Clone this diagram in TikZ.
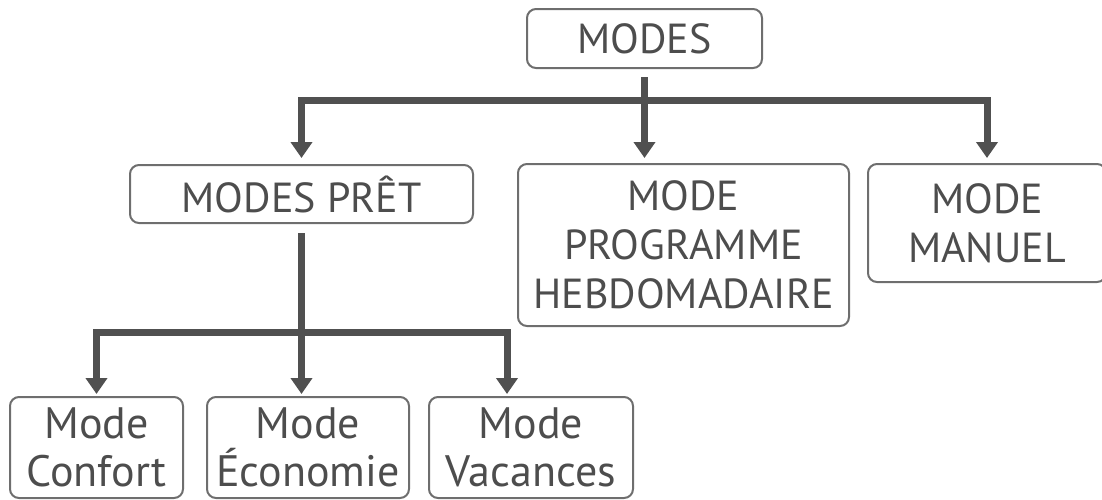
\documentclass[tikz,border=0pt]{standalone}
\usepackage{fontspec}
\setmainfont{PT Sans}
\usetikzlibrary{arrows.meta}
\definecolor{txt}{HTML}{4D4D4D}
\definecolor{edge}{HTML}{6E6E6E}
\definecolor{wire}{HTML}{505050}

\begin{document}
\begin{tikzpicture}[x=1pt, y=-1pt,
    box/.style={draw=edge, line width=2pt, rounded corners=9pt, inner sep=0pt,
      align=center, text=txt, font=\fontsize{42}{49}\selectfont},
    small/.style={box, font=\fontsize{44}{48}\selectfont,
      execute at begin node=\rule{0pt}{42pt}},
    arr/.style={draw=wire, line width=7pt, -{Triangle[width=21pt, length=16pt]}}]
  \useasboundingbox (0, 0) rectangle (1102, 499);
  \clip (0, 0) rectangle (1102, 499);
  \node [box, minimum width=235pt, minimum height=59pt] (modes) at (644.5, 38.5) {MODES};
  \node [box, minimum width=343pt, minimum height=58pt] (pret) at (301.5, 194) {MODES PRÊT};
  \node [box, minimum width=331pt, minimum height=162pt] (prog) at (683.5, 245) {MODE\\PROGRAMME\\HEBDOMADAIRE};
  \node [box, minimum width=238pt, minimum height=118pt] (manuel) at (987, 223) {MODE\\MANUEL};
  \node [small, minimum width=173pt, minimum height=101pt] (confort) at (96.5, 447.5) {Mode\\Confort};
  \node [small, minimum width=202pt, minimum height=101pt] (eco) at (308, 447.5) {Mode\\Économie};
  \node [small, minimum width=204pt, minimum height=101pt] (vac) at (531, 447.5) {Mode\\Vacances};
  \coordinate (hub) at (644.5, 100);
  \coordinate (fork) at (301.5, 332);
  \draw [arr, shorten <=8pt, shorten >=5pt] (modes.south) -- (modes.south |- prog.north);
  \draw [arr, shorten >=6pt] (hub) -- (hub -| pret) -- (pret.north);
  \draw [arr, shorten >=5pt] (hub) -- (hub -| manuel) -- (manuel.north);
  \draw [arr, shorten <=9pt, shorten >=2pt] (pret.south) -- (pret.south |- eco.north);
  \draw [arr, shorten >=2pt] (fork) -- (fork -| confort) -- (confort.north);
  \draw [arr, shorten >=2pt] (fork) -- ([xshift=79pt]fork -| vac.north west) -- ([xshift=79pt]vac.north west);
\end{tikzpicture}
\end{document}
